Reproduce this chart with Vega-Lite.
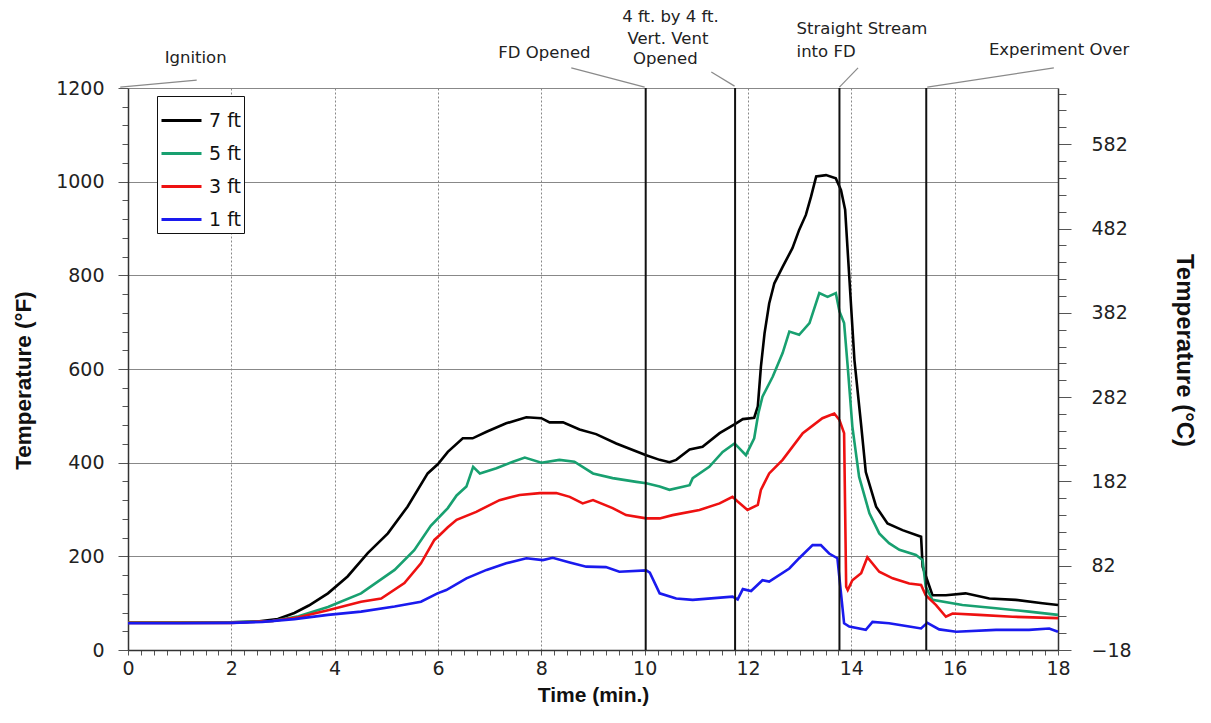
{
  "$schema": "https://vega.github.io/schema/vega-lite/v6.json",
  "width": 930,
  "height": 562,
  "autosize": "none",
  "padding": {"left": 128, "top": 88, "right": 153, "bottom": 73},
  "background": "white",
  "config": {"view": {"stroke": null}, "font": "DejaVu Sans"},
  "datasets": {
    "temps": [
      {"s":"7 ft","t":0,"T":59},{"s":"7 ft","t":1,"T":59},{"s":"7 ft","t":2,"T":59},{"s":"7 ft","t":2.5,"T":61},{"s":"7 ft","t":2.9,"T":66},{"s":"7 ft","t":3.22,"T":79},{"s":"7 ft","t":3.5,"T":95},{"s":"7 ft","t":3.87,"T":121},{"s":"7 ft","t":4.25,"T":157},{"s":"7 ft","t":4.64,"T":207},{"s":"7 ft","t":5.03,"T":249},{"s":"7 ft","t":5.41,"T":306},{"s":"7 ft","t":5.8,"T":377},{"s":"7 ft","t":6.0,"T":397},{"s":"7 ft","t":6.19,"T":423},{"s":"7 ft","t":6.48,"T":452},{"s":"7 ft","t":6.67,"T":452},{"s":"7 ft","t":6.94,"T":466},{"s":"7 ft","t":7.32,"T":484},{"s":"7 ft","t":7.71,"T":497},{"s":"7 ft","t":8.0,"T":495},{"s":"7 ft","t":8.16,"T":486},{"s":"7 ft","t":8.42,"T":486},{"s":"7 ft","t":8.74,"T":471},{"s":"7 ft","t":9.06,"T":461},{"s":"7 ft","t":9.45,"T":441},{"s":"7 ft","t":9.77,"T":427},{"s":"7 ft","t":10.03,"T":416},{"s":"7 ft","t":10.29,"T":406},{"s":"7 ft","t":10.48,"T":401},{"s":"7 ft","t":10.61,"T":406},{"s":"7 ft","t":10.87,"T":428},{"s":"7 ft","t":11.12,"T":434},{"s":"7 ft","t":11.45,"T":463},{"s":"7 ft","t":11.77,"T":484},{"s":"7 ft","t":11.9,"T":493},{"s":"7 ft","t":12.12,"T":496},{"s":"7 ft","t":12.19,"T":520},{"s":"7 ft","t":12.25,"T":605},{"s":"7 ft","t":12.32,"T":676},{"s":"7 ft","t":12.41,"T":740},{"s":"7 ft","t":12.51,"T":783},{"s":"7 ft","t":12.67,"T":818},{"s":"7 ft","t":12.86,"T":858},{"s":"7 ft","t":12.99,"T":897},{"s":"7 ft","t":13.12,"T":929},{"s":"7 ft","t":13.22,"T":968},{"s":"7 ft","t":13.32,"T":1011},{"s":"7 ft","t":13.51,"T":1014},{"s":"7 ft","t":13.7,"T":1007},{"s":"7 ft","t":13.8,"T":982},{"s":"7 ft","t":13.88,"T":940},{"s":"7 ft","t":13.96,"T":797},{"s":"7 ft","t":14.06,"T":619},{"s":"7 ft","t":14.19,"T":480},{"s":"7 ft","t":14.28,"T":380},{"s":"7 ft","t":14.48,"T":306},{"s":"7 ft","t":14.7,"T":270},{"s":"7 ft","t":14.99,"T":256},{"s":"7 ft","t":15.35,"T":242},{"s":"7 ft","t":15.38,"T":178},{"s":"7 ft","t":15.47,"T":149},{"s":"7 ft","t":15.57,"T":117},{"s":"7 ft","t":15.83,"T":117},{"s":"7 ft","t":16.21,"T":121},{"s":"7 ft","t":16.67,"T":110},{"s":"7 ft","t":17.18,"T":107},{"s":"7 ft","t":17.7,"T":100},{"s":"7 ft","t":18.0,"T":96},
      {"s":"5 ft","t":0,"T":59},{"s":"5 ft","t":1,"T":59},{"s":"5 ft","t":2,"T":59},{"s":"5 ft","t":2.8,"T":62},{"s":"5 ft","t":3.3,"T":72},{"s":"5 ft","t":3.87,"T":92},{"s":"5 ft","t":4.51,"T":121},{"s":"5 ft","t":5.16,"T":171},{"s":"5 ft","t":5.54,"T":213},{"s":"5 ft","t":5.86,"T":265},{"s":"5 ft","t":6.19,"T":303},{"s":"5 ft","t":6.36,"T":330},{"s":"5 ft","t":6.55,"T":349},{"s":"5 ft","t":6.68,"T":391},{"s":"5 ft","t":6.81,"T":377},{"s":"5 ft","t":7.13,"T":388},{"s":"5 ft","t":7.45,"T":402},{"s":"5 ft","t":7.68,"T":411},{"s":"5 ft","t":8.0,"T":400},{"s":"5 ft","t":8.35,"T":406},{"s":"5 ft","t":8.64,"T":402},{"s":"5 ft","t":9.0,"T":377},{"s":"5 ft","t":9.38,"T":367},{"s":"5 ft","t":9.84,"T":359},{"s":"5 ft","t":10.03,"T":356},{"s":"5 ft","t":10.29,"T":349},{"s":"5 ft","t":10.48,"T":342},{"s":"5 ft","t":10.87,"T":352},{"s":"5 ft","t":10.93,"T":367},{"s":"5 ft","t":11.25,"T":391},{"s":"5 ft","t":11.51,"T":423},{"s":"5 ft","t":11.74,"T":441},{"s":"5 ft","t":11.96,"T":416},{"s":"5 ft","t":12.12,"T":452},{"s":"5 ft","t":12.2,"T":505},{"s":"5 ft","t":12.28,"T":541},{"s":"5 ft","t":12.48,"T":584},{"s":"5 ft","t":12.67,"T":634},{"s":"5 ft","t":12.8,"T":680},{"s":"5 ft","t":12.99,"T":673},{"s":"5 ft","t":13.19,"T":698},{"s":"5 ft","t":13.38,"T":762},{"s":"5 ft","t":13.54,"T":754},{"s":"5 ft","t":13.7,"T":762},{"s":"5 ft","t":13.77,"T":723},{"s":"5 ft","t":13.86,"T":698},{"s":"5 ft","t":13.93,"T":605},{"s":"5 ft","t":14.02,"T":477},{"s":"5 ft","t":14.15,"T":370},{"s":"5 ft","t":14.35,"T":292},{"s":"5 ft","t":14.54,"T":249},{"s":"5 ft","t":14.73,"T":228},{"s":"5 ft","t":14.93,"T":214},{"s":"5 ft","t":15.25,"T":203},{"s":"5 ft","t":15.38,"T":192},{"s":"5 ft","t":15.44,"T":135},{"s":"5 ft","t":15.57,"T":107},{"s":"5 ft","t":16.15,"T":96},{"s":"5 ft","t":16.8,"T":89},{"s":"5 ft","t":17.44,"T":82},{"s":"5 ft","t":18.0,"T":75},
      {"s":"3 ft","t":0,"T":58},{"s":"3 ft","t":1,"T":58},{"s":"3 ft","t":2,"T":58},{"s":"3 ft","t":2.8,"T":62},{"s":"3 ft","t":3.3,"T":70},{"s":"3 ft","t":3.87,"T":85},{"s":"3 ft","t":4.51,"T":103},{"s":"3 ft","t":4.9,"T":110},{"s":"3 ft","t":5.35,"T":143},{"s":"3 ft","t":5.67,"T":185},{"s":"3 ft","t":5.93,"T":235},{"s":"3 ft","t":6.03,"T":245},{"s":"3 ft","t":6.19,"T":262},{"s":"3 ft","t":6.36,"T":278},{"s":"3 ft","t":6.74,"T":295},{"s":"3 ft","t":7.19,"T":320},{"s":"3 ft","t":7.58,"T":331},{"s":"3 ft","t":7.97,"T":335},{"s":"3 ft","t":8.29,"T":335},{"s":"3 ft","t":8.55,"T":327},{"s":"3 ft","t":8.8,"T":313},{"s":"3 ft","t":9.0,"T":320},{"s":"3 ft","t":9.38,"T":303},{"s":"3 ft","t":9.64,"T":288},{"s":"3 ft","t":10.03,"T":281},{"s":"3 ft","t":10.29,"T":281},{"s":"3 ft","t":10.54,"T":288},{"s":"3 ft","t":11.06,"T":299},{"s":"3 ft","t":11.45,"T":313},{"s":"3 ft","t":11.7,"T":327},{"s":"3 ft","t":11.8,"T":317},{"s":"3 ft","t":11.99,"T":299},{"s":"3 ft","t":12.19,"T":310},{"s":"3 ft","t":12.25,"T":342},{"s":"3 ft","t":12.41,"T":377},{"s":"3 ft","t":12.67,"T":406},{"s":"3 ft","t":13.06,"T":463},{"s":"3 ft","t":13.44,"T":495},{"s":"3 ft","t":13.67,"T":505},{"s":"3 ft","t":13.77,"T":491},{"s":"3 ft","t":13.86,"T":463},{"s":"3 ft","t":13.9,"T":135},{"s":"3 ft","t":13.93,"T":128},{"s":"3 ft","t":14.02,"T":149},{"s":"3 ft","t":14.19,"T":164},{"s":"3 ft","t":14.31,"T":198},{"s":"3 ft","t":14.54,"T":167},{"s":"3 ft","t":14.8,"T":153},{"s":"3 ft","t":15.12,"T":142},{"s":"3 ft","t":15.35,"T":139},{"s":"3 ft","t":15.44,"T":117},{"s":"3 ft","t":15.64,"T":96},{"s":"3 ft","t":15.83,"T":71},{"s":"3 ft","t":15.96,"T":78},{"s":"3 ft","t":16.47,"T":75},{"s":"3 ft","t":17.12,"T":71},{"s":"3 ft","t":18.0,"T":68},
      {"s":"1 ft","t":0,"T":57},{"s":"1 ft","t":1,"T":57},{"s":"1 ft","t":2,"T":58},{"s":"1 ft","t":2.6,"T":60},{"s":"1 ft","t":3.22,"T":66},{"s":"1 ft","t":3.87,"T":75},{"s":"1 ft","t":4.51,"T":82},{"s":"1 ft","t":5.16,"T":93},{"s":"1 ft","t":5.67,"T":103},{"s":"1 ft","t":5.99,"T":121},{"s":"1 ft","t":6.16,"T":128},{"s":"1 ft","t":6.55,"T":153},{"s":"1 ft","t":6.94,"T":171},{"s":"1 ft","t":7.32,"T":185},{"s":"1 ft","t":7.71,"T":196},{"s":"1 ft","t":8.03,"T":192},{"s":"1 ft","t":8.22,"T":197},{"s":"1 ft","t":8.55,"T":187},{"s":"1 ft","t":8.87,"T":178},{"s":"1 ft","t":9.25,"T":177},{"s":"1 ft","t":9.51,"T":167},{"s":"1 ft","t":10.03,"T":170},{"s":"1 ft","t":10.1,"T":165},{"s":"1 ft","t":10.29,"T":121},{"s":"1 ft","t":10.61,"T":110},{"s":"1 ft","t":10.93,"T":107},{"s":"1 ft","t":11.7,"T":114},{"s":"1 ft","t":11.8,"T":108},{"s":"1 ft","t":11.9,"T":130},{"s":"1 ft","t":12.06,"T":126},{"s":"1 ft","t":12.28,"T":149},{"s":"1 ft","t":12.41,"T":146},{"s":"1 ft","t":12.8,"T":174},{"s":"1 ft","t":12.99,"T":196},{"s":"1 ft","t":13.25,"T":224},{"s":"1 ft","t":13.41,"T":224},{"s":"1 ft","t":13.57,"T":206},{"s":"1 ft","t":13.73,"T":196},{"s":"1 ft","t":13.8,"T":121},{"s":"1 ft","t":13.86,"T":57},{"s":"1 ft","t":13.96,"T":50},{"s":"1 ft","t":14.28,"T":43},{"s":"1 ft","t":14.41,"T":60},{"s":"1 ft","t":14.73,"T":57},{"s":"1 ft","t":15.12,"T":50},{"s":"1 ft","t":15.35,"T":46},{"s":"1 ft","t":15.47,"T":58},{"s":"1 ft","t":15.7,"T":44},{"s":"1 ft","t":16.03,"T":39},{"s":"1 ft","t":16.8,"T":43},{"s":"1 ft","t":17.44,"T":43},{"s":"1 ft","t":17.83,"T":46},{"s":"1 ft","t":18.0,"T":39}
    ],
    "events": [
      {"t": 10.02, "T": 0, "T2": 1200},
      {"t": 11.75, "T": 0, "T2": 1200},
      {"t": 13.77, "T": 0, "T2": 1200},
      {"t": 15.45, "T": 0, "T2": 1200}
    ],
    "leaders": [
      {"t": -0.15, "T": 1202, "t2": 1.33, "T2": 1217},
      {"t": 8.58, "T": 1243, "t2": 10.0, "T2": 1202},
      {"t": 11.29, "T": 1234, "t2": 11.74, "T2": 1204},
      {"t": 14.13, "T": 1243, "t2": 13.77, "T2": 1202},
      {"t": 17.92, "T": 1243, "t2": 15.47, "T2": 1202}
    ],
    "notes_c": [
      {"t": 1.31, "T": 1264, "label": "Ignition"},
      {"t": 8.06, "T": 1275, "label": "FD Opened"},
      {"t": 10.5, "T": 1352, "label": "4 ft. by 4 ft."},
      {"t": 10.45, "T": 1305, "label": "Vert. Vent"},
      {"t": 10.4, "T": 1262, "label": "Opened"},
      {"t": 18.02, "T": 1281, "label": "Experiment Over"}
    ],
    "notes_l": [
      {"t": 12.94, "T": 1326, "label": "Straight Stream"},
      {"t": 12.94, "T": 1277, "label": "into FD"}
    ]
  },
  "layer": [
    {
      "encoding": {
        "x": {
          "field": "t", "type": "quantitative",
          "scale": {"domain": [0, 18], "nice": false, "zero": false},
          "axis": {
            "values": [0,0.25,0.5,0.75,1,1.25,1.5,1.75,2,2.25,2.5,2.75,3,3.25,3.5,3.75,4,4.25,4.5,4.75,5,5.25,5.5,5.75,6,6.25,6.5,6.75,7,7.25,7.5,7.75,8,8.25,8.5,8.75,9,9.25,9.5,9.75,10,10.25,10.5,10.75,11,11.25,11.5,11.75,12,12.25,12.5,12.75,13,13.25,13.5,13.75,14,14.25,14.5,14.75,15,15.25,15.5,15.75,16,16.25,16.5,16.75,17,17.25,17.5,17.75,18],
            "labelExpr": "datum.value % 2 === 0 ? format(datum.value, 'd') : ''",
            "labelOverlap": false, "labelFlush": false,
            "labelFont": "DejaVu Sans", "labelFontSize": 19, "labelColor": "#222", "labelPadding": 4,
            "tickSize": 5, "tickColor": "#555", "tickWidth": 1,
            "domainColor": "#333", "domainWidth": 1.5,
            "grid": true, "gridDash": [2, 2], "gridColor": "#888", "gridWidth": 1,
            "gridOpacity": {"condition": {"test": "datum.value % 2 === 0 && datum.value > 0 && datum.value < 18", "value": 1}, "value": 0},
            "title": "Time (min.)", "titleFont": "Liberation Sans", "titleFontSize": 21, "titleFontWeight": "bold", "titleColor": "#111", "titlePadding": 6
          }
        },
        "y": {
          "field": "T", "type": "quantitative",
          "scale": {"domain": [0, 1200], "nice": false, "zero": false},
          "axis": {
            "values": [0,40,80,120,160,200,240,280,320,360,400,440,480,520,560,600,640,680,720,760,800,840,880,920,960,1000,1040,1080,1120,1160,1200],
            "labelExpr": "datum.value % 200 === 0 ? format(datum.value, 'd') : ''",
            "labelOverlap": false, "labelFlush": false,
            "labelFont": "DejaVu Sans", "labelFontSize": 19, "labelColor": "#222", "labelPadding": 14,
            "tickSize": {"condition": {"test": "datum.value % 200 === 0", "value": 10}, "value": 6},
            "tickColor": "#555",
            "domainColor": "#333", "domainWidth": 1.5,
            "grid": true, "gridColor": "#888", "gridWidth": 1,
            "gridOpacity": {"condition": {"test": "datum.value % 200 === 0 && datum.value > 0", "value": 1}, "value": 0},
            "title": "Temperature (°F)", "titleFont": "Liberation Sans", "titleFontSize": 22.5, "titleFontWeight": "bold", "titleColor": "#111", "titlePadding": 20, "titleY": 292
          }
        }
      },
      "layer": [
        {
          "data": {"name": "temps"},
          "mark": {"type": "line", "strokeWidth": 2.6},
          "encoding": {
            "color": {
              "field": "s", "type": "nominal",
              "scale": {"domain": ["7 ft", "5 ft", "3 ft", "1 ft"], "range": ["#000000", "#18a070", "#ee1111", "#1a1aee"]},
              "legend": {
                "orient": "none", "legendX": 29, "legendY": 8, "title": null,
                "symbolType": "stroke", "symbolSize": 1600, "symbolStrokeWidth": 3,
                "labelFont": "DejaVu Sans", "labelFontSize": 19, "labelColor": "#111", "labelOffset": 6,
                "strokeColor": "#111", "fillColor": "white", "padding": 3, "rowPadding": 1
              }
            }
          }
        },
        {
          "data": {"name": "events"},
          "mark": {"type": "rule", "color": "#111", "strokeWidth": 2},
          "encoding": {"y2": {"field": "T2"}}
        },
        {
          "data": {"name": "leaders"},
          "mark": {"type": "rule", "color": "#8a8a8a", "strokeWidth": 1.2},
          "encoding": {"x2": {"field": "t2"}, "y2": {"field": "T2"}}
        },
        {
          "data": {"name": "notes_c"},
          "mark": {"type": "text", "align": "center", "baseline": "middle", "font": "DejaVu Sans", "fontSize": 16.5, "color": "#222"},
          "encoding": {"text": {"field": "label"}}
        },
        {
          "data": {"name": "notes_l"},
          "mark": {"type": "text", "align": "left", "baseline": "middle", "font": "DejaVu Sans", "fontSize": 16.5, "color": "#222"},
          "encoding": {"text": {"field": "label"}}
        }
      ]
    },
    {
      "data": {"values": [{"C": -18}, {"C": 648.67}]},
      "mark": {"type": "point", "opacity": 0},
      "encoding": {
        "y": {
          "field": "C", "type": "quantitative",
          "scale": {"domain": [-18, 648.67], "nice": false, "zero": false},
          "axis": {
            "orient": "right",
            "values": [-18,2,22,42,62,82,102,122,142,162,182,202,222,242,262,282,302,322,342,362,382,402,422,442,462,482,502,522,542,562,582,602,622,642],
            "labelExpr": "(datum.value + 18) % 100 === 0 ? format(datum.value, 'd') : ''",
            "labelOverlap": false, "labelFlush": false,
            "labelFont": "DejaVu Sans", "labelFontSize": 19, "labelColor": "#222", "labelPadding": 20,
            "tickSize": {"condition": {"test": "(datum.value + 18) % 100 === 0", "value": 13}, "value": 8},
            "tickColor": "#555",
            "domainColor": "#333", "domainWidth": 1.5,
            "grid": false,
            "title": "Temperature (°C)", "titleFont": "Liberation Sans", "titleFontSize": 24, "titleFontWeight": "bold", "titleColor": "#111", "titlePadding": 40, "titleY": 262
          }
        }
      }
    }
  ],
  "resolve": {"scale": {"y": "independent"}}
}
